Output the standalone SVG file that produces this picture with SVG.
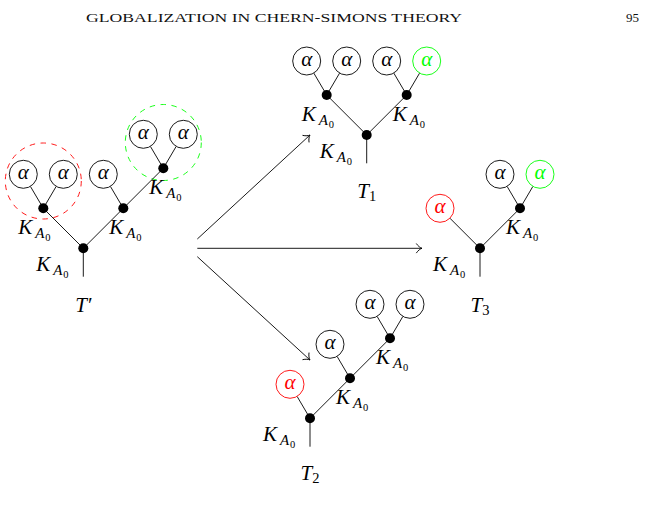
<svg xmlns="http://www.w3.org/2000/svg" width="645" height="524" viewBox="0 0 645 524">
<style>
.bg{fill:#fff}
.hd{font-family:"Liberation Serif",serif;font-size:13px;fill:#111}
.m{font-family:"Liberation Serif",serif;font-style:italic;font-size:21px;fill:#000}
.s{font-size:15px}
.ss{font-size:10.5px;font-style:normal}
.sn{font-size:14.5px;font-style:normal}
.al{font-family:"Liberation Serif",serif;font-style:italic;font-size:21px;text-anchor:middle}
.c{fill:#fff;stroke:#000;stroke-width:0.9}
.cr{fill:#fff;stroke:#f00;stroke-width:0.9}
.cg{fill:#fff;stroke:#0f0;stroke-width:0.9}
.d{fill:#000}
.e{stroke:#000;stroke-width:0.9;fill:none}
.ar{stroke:#000;stroke-width:0.9;fill:none;marker-end:url(#tip)}
.dr{fill:none;stroke:#f00;stroke-width:0.9;stroke-dasharray:5.5 5.5}
.dg{fill:none;stroke:#0f0;stroke-width:0.9;stroke-dasharray:5.5 5.5}
.t{text-anchor:middle}
</style>
<defs>
<marker id="tip" markerUnits="userSpaceOnUse" markerWidth="12" markerHeight="12" viewBox="-7 -6 8 12" refX="0" refY="0" orient="auto" overflow="visible">
<path d="M-5.5,-4.5 C-3.8,-2 -1.8,-0.6 0,0 C-1.8,0.6 -3.8,2 -5.5,4.5" fill="none" stroke="#000" stroke-width="0.9" stroke-linecap="round"/>
</marker>
</defs>
<rect class="bg" x="0" y="0" width="645" height="524"/>
<g id="header">
<text class="hd" x="86" y="22" textLength="376" lengthAdjust="spacingAndGlyphs">GLOBALIZATION IN CHERN-SIMONS THEORY</text>
<text class="hd" x="639" y="22" text-anchor="end">95</text>
</g>
<g id="highlights">
<circle class="dr" cx="43.3" cy="181" r="38"/>
<circle class="dg" cx="163.3" cy="142.5" r="38"/>
</g>
<g id="connectors">
<line class="e" x1="83.3" y1="248.3" x2="83.3" y2="276.7"/>
<line class="e" x1="83.3" y1="248.3" x2="43.3" y2="208.3"/>
<line class="e" x1="83.3" y1="248.3" x2="123.3" y2="208.3"/>
<line class="e" x1="123.3" y1="208.3" x2="163.3" y2="168.3"/>
<line class="e" x1="43.3" y1="208.3" x2="30.4" y2="186.4"/>
<line class="e" x1="43.3" y1="208.3" x2="56.2" y2="186.4"/>
<line class="e" x1="123.3" y1="208.3" x2="110.4" y2="186.4"/>
<line class="e" x1="163.3" y1="168.3" x2="150.4" y2="146.4"/>
<line class="e" x1="163.3" y1="168.3" x2="176.2" y2="146.4"/>
<line class="e" x1="366.7" y1="135" x2="366.7" y2="163.3"/>
<line class="e" x1="366.7" y1="135" x2="326.7" y2="95"/>
<line class="e" x1="366.7" y1="135" x2="406.7" y2="95"/>
<line class="e" x1="326.7" y1="95" x2="313.8" y2="73.1"/>
<line class="e" x1="326.7" y1="95" x2="339.6" y2="73.1"/>
<line class="e" x1="406.7" y1="95" x2="393.8" y2="73.1"/>
<line class="e" x1="406.7" y1="95" x2="419.6" y2="73.1"/>
<line class="e" x1="480" y1="248.3" x2="480" y2="276.7"/>
<line class="e" x1="480" y1="248.3" x2="449.9" y2="218.2"/>
<line class="e" x1="480" y1="248.3" x2="520" y2="208.3"/>
<line class="e" x1="520" y1="208.3" x2="507.1" y2="186.4"/>
<line class="e" x1="520" y1="208.3" x2="532.9" y2="186.4"/>
<line class="e" x1="310" y1="418.3" x2="310" y2="446.7"/>
<line class="e" x1="310" y1="418.3" x2="297.1" y2="396.4"/>
<line class="e" x1="310" y1="418.3" x2="350" y2="378.3"/>
<line class="e" x1="350" y1="378.3" x2="337.1" y2="356.4"/>
<line class="e" x1="350" y1="378.3" x2="390" y2="338.3"/>
<line class="e" x1="390" y1="338.3" x2="377.1" y2="316.4"/>
<line class="e" x1="390" y1="338.3" x2="402.9" y2="316.4"/>
<line class="ar" x1="197.3" y1="239" x2="310" y2="135"/>
<line class="ar" x1="197.3" y1="248.3" x2="422" y2="248.3"/>
<line class="ar" x1="197.3" y1="256.7" x2="310" y2="360"/>
</g>
<g id="Tprime">
<g id="tp-a1"><circle class="c" cx="23.3" cy="174.3" r="14"/><text class="al" x="23.3" y="179.1">α</text></g>
<g id="tp-a2"><circle class="c" cx="63.3" cy="174.3" r="14"/><text class="al" x="63.3" y="179.1">α</text></g>
<g id="tp-a3"><circle class="c" cx="103.3" cy="174.3" r="14"/><text class="al" x="103.3" y="179.1">α</text></g>
<g id="tp-a4"><circle class="c" cx="143.3" cy="134.3" r="14"/><text class="al" x="143.3" y="139.1">α</text></g>
<g id="tp-a5"><circle class="c" cx="183.3" cy="134.3" r="14"/><text class="al" x="183.3" y="139.1">α</text></g>
<g id="tp-dL"><circle class="d" cx="43.3" cy="208.3" r="5"/><text class="m" x="18.3" y="234.3">K<tspan class="s" dx="3" dy="4">A</tspan><tspan class="ss" dx="0.8" dy="3">0</tspan></text></g>
<g id="tp-dR"><circle class="d" cx="123.3" cy="208.3" r="5"/><text class="m" x="109.3" y="234.3">K<tspan class="s" dx="3" dy="4">A</tspan><tspan class="ss" dx="0.8" dy="3">0</tspan></text></g>
<g id="tp-dRR"><circle class="d" cx="163.3" cy="168.3" r="5"/><text class="m" x="149.3" y="194.3">K<tspan class="s" dx="3" dy="4">A</tspan><tspan class="ss" dx="0.8" dy="3">0</tspan></text></g>
<g id="tp-root"><circle class="d" cx="83.3" cy="248.3" r="5"/><text class="m" x="36.3" y="271.3">K<tspan class="s" dx="3" dy="4">A</tspan><tspan class="ss" dx="0.8" dy="3">0</tspan></text></g>
<text class="m t" x="83.3" y="311.7">T′</text>
</g>
<g id="T1">
<g id="t1-a1"><circle class="c" cx="306.7" cy="61" r="14"/><text class="al" x="306.7" y="65.8">α</text></g>
<g id="t1-a2"><circle class="c" cx="346.7" cy="61" r="14"/><text class="al" x="346.7" y="65.8">α</text></g>
<g id="t1-a3"><circle class="c" cx="386.7" cy="61" r="14"/><text class="al" x="386.7" y="65.8">α</text></g>
<g id="t1-a4"><circle class="cg" cx="426.7" cy="61" r="14"/><text class="al" x="426.7" y="65.8" fill="#0f0">α</text></g>
<g id="t1-dL"><circle class="d" cx="326.7" cy="95" r="5"/><text class="m" x="301.7" y="121">K<tspan class="s" dx="3" dy="4">A</tspan><tspan class="ss" dx="0.8" dy="3">0</tspan></text></g>
<g id="t1-dR"><circle class="d" cx="406.7" cy="95" r="5"/><text class="m" x="392.7" y="121">K<tspan class="s" dx="3" dy="4">A</tspan><tspan class="ss" dx="0.8" dy="3">0</tspan></text></g>
<g id="t1-root"><circle class="d" cx="366.7" cy="135" r="5"/><text class="m" x="319.7" y="158">K<tspan class="s" dx="3" dy="4">A</tspan><tspan class="ss" dx="0.8" dy="3">0</tspan></text></g>
<text class="m t" x="366.7" y="197.5">T<tspan class="sn" dy="3">1</tspan></text>
</g>
<g id="T3">
<g id="t3-ar"><circle class="cr" cx="440" cy="208.3" r="14"/><text class="al" x="440" y="213.1" fill="#f00">α</text></g>
<g id="t3-a1"><circle class="c" cx="500" cy="174.3" r="14"/><text class="al" x="500" y="179.1">α</text></g>
<g id="t3-a2"><circle class="cg" cx="540" cy="174.3" r="14"/><text class="al" x="540" y="179.1" fill="#0f0">α</text></g>
<g id="t3-dR"><circle class="d" cx="520" cy="208.3" r="5"/><text class="m" x="506" y="234.3">K<tspan class="s" dx="3" dy="4">A</tspan><tspan class="ss" dx="0.8" dy="3">0</tspan></text></g>
<g id="t3-root"><circle class="d" cx="480" cy="248.3" r="5"/><text class="m" x="433" y="271.3">K<tspan class="s" dx="3" dy="4">A</tspan><tspan class="ss" dx="0.8" dy="3">0</tspan></text></g>
<text class="m t" x="480" y="311.7">T<tspan class="sn" dy="3">3</tspan></text>
</g>
<g id="T2">
<g id="t2-ar"><circle class="cr" cx="290" cy="384.3" r="14"/><text class="al" x="290" y="389.1" fill="#f00">α</text></g>
<g id="t2-a1"><circle class="c" cx="330" cy="344.3" r="14"/><text class="al" x="330" y="349.1">α</text></g>
<g id="t2-a2"><circle class="c" cx="370" cy="304.3" r="14"/><text class="al" x="370" y="309.1">α</text></g>
<g id="t2-a3"><circle class="c" cx="410" cy="304.3" r="14"/><text class="al" x="410" y="309.1">α</text></g>
<g id="t2-dM"><circle class="d" cx="350" cy="378.3" r="5"/><text class="m" x="336" y="404.3">K<tspan class="s" dx="3" dy="4">A</tspan><tspan class="ss" dx="0.8" dy="3">0</tspan></text></g>
<g id="t2-dT"><circle class="d" cx="390" cy="338.3" r="5"/><text class="m" x="376" y="364.3">K<tspan class="s" dx="3" dy="4">A</tspan><tspan class="ss" dx="0.8" dy="3">0</tspan></text></g>
<g id="t2-root"><circle class="d" cx="310" cy="418.3" r="5"/><text class="m" x="263" y="441.3">K<tspan class="s" dx="3" dy="4">A</tspan><tspan class="ss" dx="0.8" dy="3">0</tspan></text></g>
<text class="m t" x="310" y="480">T<tspan class="sn" dy="3">2</tspan></text>
</g>
</svg>
